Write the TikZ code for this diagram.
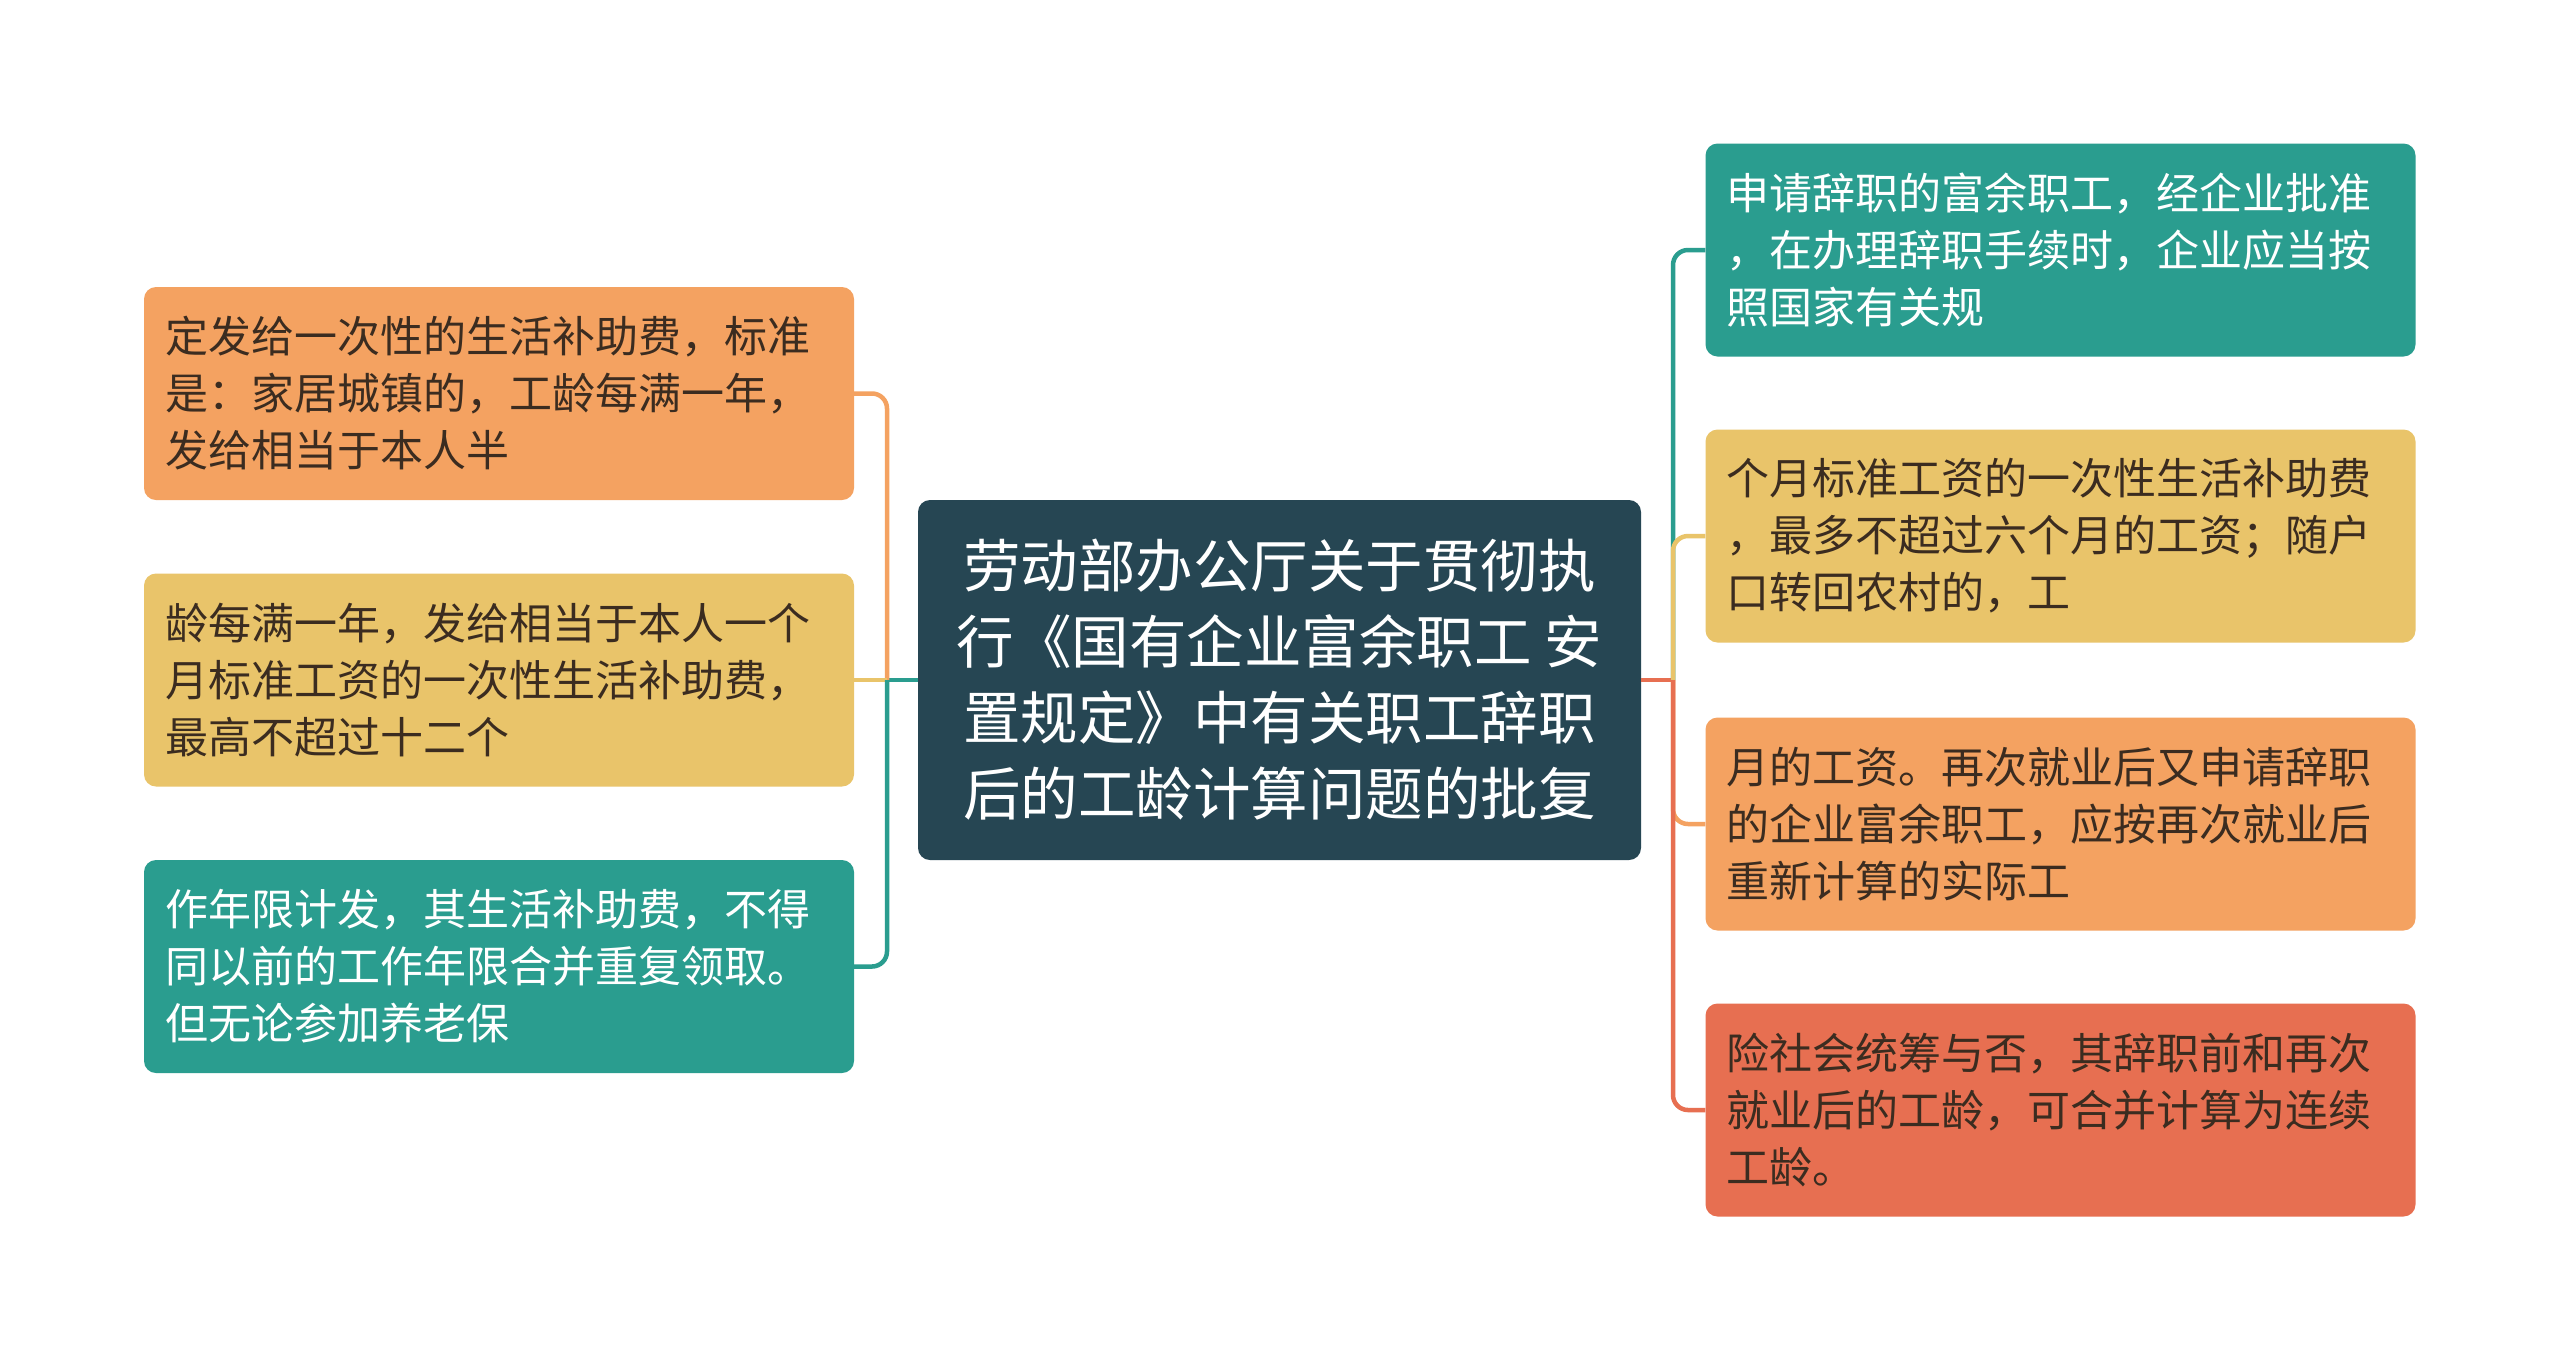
\documentclass[tikz,border=0pt]{standalone}
\usepackage{fontspec}
\setmainfont{Noto Sans CJK SC}
\definecolor{cdark}{HTML}{264653}
\definecolor{cteal}{HTML}{2A9D8F}
\definecolor{cyellow}{HTML}{E9C46A}
\definecolor{corange}{HTML}{F4A261}
\definecolor{cred}{HTML}{E76F51}
\definecolor{ctxt}{HTML}{3B2C20}
\tikzset{
  leaf/.style={rounded corners=12pt, inner xsep=21pt, inner ysep=0pt, text width=668pt,
    minimum height=213pt, align=left, font={\fontsize{43}{57}\selectfont}},
  darktext/.style={text=ctxt},
  lighttext/.style={text=white},
  conn/.style={line width=4.5pt, rounded corners=15pt},
}
\begin{document}
\begin{tikzpicture}[x=1pt,y=-1pt]
\useasboundingbox (0,0) rectangle (2560,1361);
\fill[white] (0,0) rectangle (2560,1361);
% junctions
\coordinate (jl) at (887,680);
\coordinate (jr) at (1673,680);
% central
\node[fill=cdark, rounded corners=12pt, minimum width=723pt, minimum height=360pt, inner sep=0pt,
  text=white, align=center, font={\fontsize{57.5}{76}\selectfont}] (c) at (1279.5,680)
  {劳动部办公厅关于贯彻执\\行《国有企业富余职工 安\\置规定》中有关职工辞职\\后的工龄计算问题的批复};
% left leaves
\node[leaf, fill=corange, darktext] (l1) at (499,393.5)
  {定发给一次性的生活补助费，标准\\是：家居城镇的，工龄每满一年，\\发给相当于本人半};
\node[leaf, fill=cyellow, darktext] (l2) at (499,680)
  {龄每满一年，发给相当于本人一个\\月标准工资的一次性生活补助费，\\最高不超过十二个};
\node[leaf, fill=cteal, lighttext] (l3) at (499,966.5)
  {作年限计发，其生活补助费，不得\\同以前的工作年限合并重复领取。\\但无论参加养老保};
% right leaves
\node[leaf, fill=cteal, lighttext] (r1) at (2060.5,250)
  {申请辞职的富余职工，经企业批准\\，在办理辞职手续时，企业应当按\\照国家有关规};
\node[leaf, fill=cyellow, darktext] (r2) at (2060.5,536)
  {个月标准工资的一次性生活补助费\\，最多不超过六个月的工资；随户\\口转回农村的，工};
\node[leaf, fill=corange, darktext] (r3) at (2060.5,824)
  {月的工资。再次就业后又申请辞职\\的企业富余职工，应按再次就业后\\重新计算的实际工};
\node[leaf, fill=cred, darktext] (r4) at (2060.5,1110)
  {险社会统筹与否，其辞职前和再次\\就业后的工龄，可合并计算为连续\\工龄。};
% connectors
\draw[conn, cteal] (c.west) -- (jl);
\draw[conn, corange] (jl) |- (l1.east);
\draw[conn, cyellow] (jl) -- (l2.east);
\draw[conn, cteal] (jl) |- (l3.east);
\draw[conn, cred] (c.east) -- (jr);
\draw[conn, cteal] (jr) |- (r1.west);
\draw[conn, cyellow] (jr) |- (r2.west);
\draw[conn, corange] (jr) |- (r3.west);
\draw[conn, cred] (jr) |- (r4.west);
\end{tikzpicture}
\end{document}
